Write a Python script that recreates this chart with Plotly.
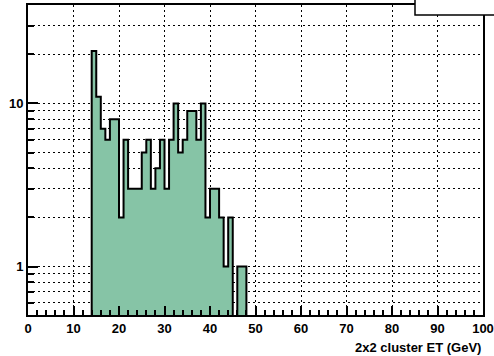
import numpy as np
import plotly.graph_objects as go

# Histogram data: bins of width 1 GeV starting at 14 GeV
bin_low_edges = list(range(14, 48))
counts = [21, 11, 7, 6, 8, 8, 2, 6, 3, 3, 3, 5, 6, 3, 4, 6, 3, 6, 10, 5,
          6, 9, 9, 6, 10, 2, 3, 3, 2, 1, 2, 0, 1, 1]
bin_width = 1

x_tick_vals = list(range(0, 101, 10))
x_minor_vals = [v for v in range(0, 101, 2) if v % 10 != 0]
y_major_vals = [1, 10]
y_minor_vals = [0.6, 0.7, 0.8, 0.9, 2, 3, 4, 5, 6, 7, 8, 9, 20, 30]
x_title = "2x2 cluster ET (GeV)"

FLOOR = 0.05  # below the visible range, closes the outline at the bottom
xs, ys = [bin_low_edges[0]], [FLOOR]
for lo, c in zip(bin_low_edges, counts):
    v = c if c > 0 else FLOOR
    xs += [lo, lo + bin_width]
    ys += [v, v]
xs.append(bin_low_edges[-1] + bin_width)
ys.append(FLOOR)

fig = go.Figure()
fig.add_trace(go.Scatter(
    x=xs, y=ys, mode="lines", fill="toself",
    fillcolor="#86c4a6", line=dict(color="black", width=2),
    hoverinfo="skip", showlegend=False,
))

font = dict(family="Liberation Sans, Arial, sans-serif", size=13, color="black", weight="bold")
grid_dash = "2px,3px"

fig.update_layout(
    width=494, height=356,
    margin=dict(l=28, r=11, t=5, b=41),
    paper_bgcolor="white", plot_bgcolor="white",
    font=font,
    xaxis=dict(
        range=[0, 100], tickmode="array", tickvals=x_tick_vals,
        ticktext=[f"<b>{v}</b>" for v in x_tick_vals],
        ticks="inside", ticklen=9, tickwidth=1.5, tickcolor="black",
        showline=True, linecolor="black", linewidth=2, mirror=True,
        showgrid=True, gridcolor="black", gridwidth=1, griddash=grid_dash,
        zeroline=False, tickfont=font, automargin=False,
        minor=dict(tickmode="array", tickvals=x_minor_vals, ticks="inside",
                   ticklen=5, tickwidth=1.5, tickcolor="black", showgrid=False),
    ),
    yaxis=dict(
        type="log", range=[np.log10(0.504), np.log10(40.2)],
        tickmode="array", tickvals=y_major_vals,
        ticktext=[f"<b>{v}</b>" for v in y_major_vals],
        ticks="inside", ticklen=10, tickwidth=1.5, tickcolor="black",
        showline=True, linecolor="black", linewidth=2, mirror=True,
        showgrid=True, gridcolor="black", gridwidth=1, griddash=grid_dash,
        zeroline=False, tickfont=font, automargin=False,
        minor=dict(tickmode="array", tickvals=y_minor_vals, ticks="inside",
                   ticklen=6, tickwidth=1.5, tickcolor="black",
                   showgrid=True, gridcolor="black", gridwidth=1, griddash=grid_dash),
    ),
    annotations=[dict(
        text=f"<b>{x_title}</b>", xref="paper", yref="paper", x=1, y=0,
        xanchor="right", yanchor="middle", yshift=-32, showarrow=False,
        font=font,
    )],
    shapes=[dict(
        type="rect", xref="paper", yref="paper",
        x0=(415 - 28) / 455, x1=1.1, y0=(315 - 15) / 310, y1=1.2,
        fillcolor="white", line=dict(color="black", width=1.5), layer="above",
    )],
)

fig.write_html(
    "out.html",
    config={"displayModeBar": False},
    post_script="document.body.style.margin='0';document.body.style.overflow='hidden';",
)
